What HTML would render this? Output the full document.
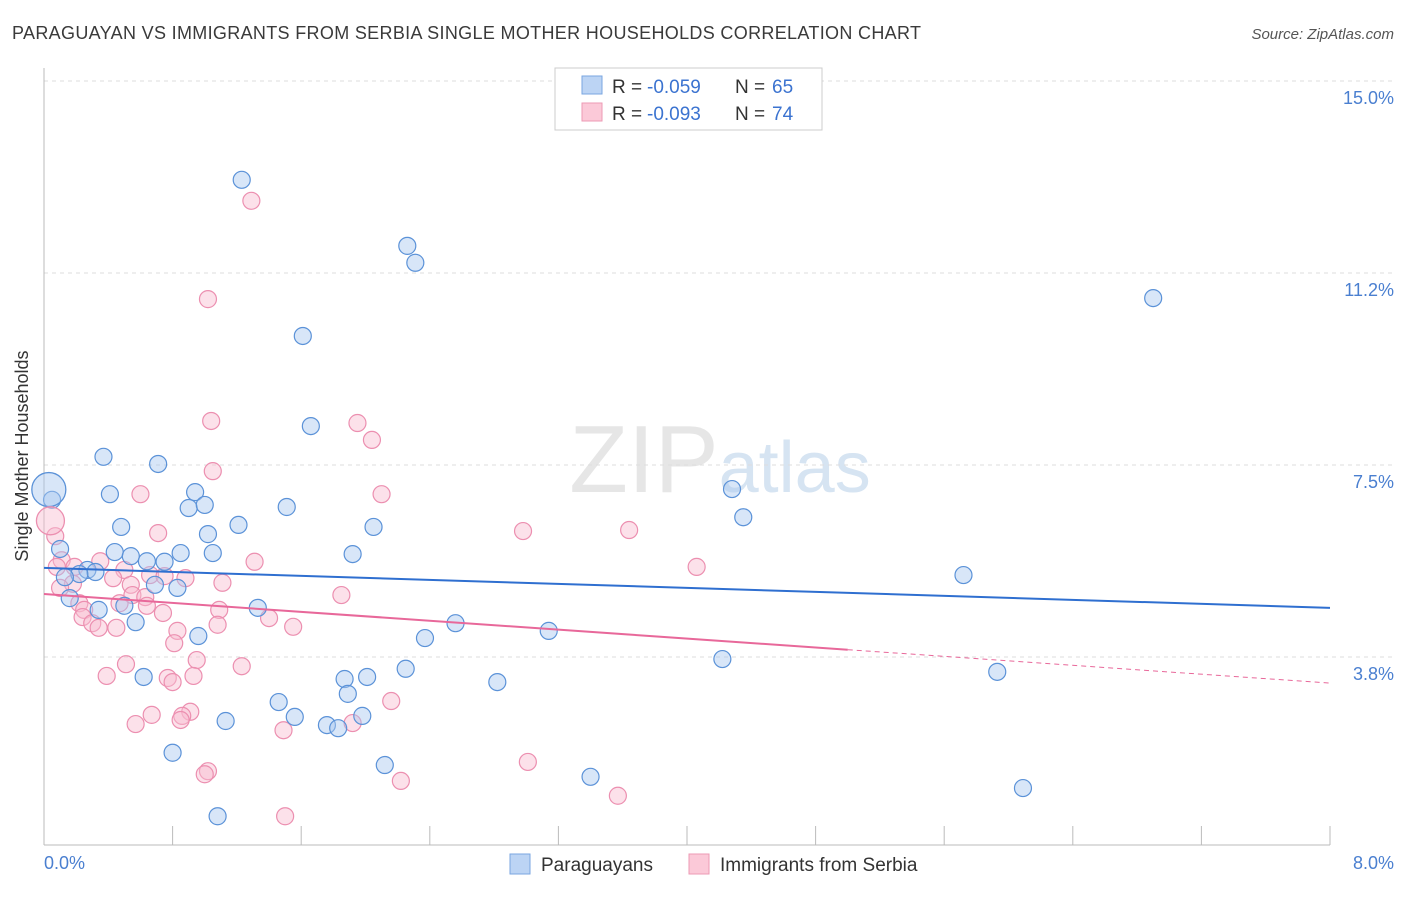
<!DOCTYPE html>
<html><head><meta charset="utf-8"><style>
body{margin:0;background:#fff;font-family:"Liberation Sans",sans-serif}
svg text{font-family:"Liberation Sans",sans-serif}
</style></head><body>
<svg id="chart" width="1406" height="892">
<text x="12" y="39" font-size="18" fill="#3a3a3a" textLength="909">PARAGUAYAN VS IMMIGRANTS FROM SERBIA SINGLE MOTHER HOUSEHOLDS CORRELATION CHART</text>
<text x="1394" y="39" font-size="15" fill="#555" font-style="italic" text-anchor="end">Source: ZipAtlas.com</text>
<text x="720" y="492" font-size="96" fill="#e6e6e6" text-anchor="middle" font-family="Liberation Serif">ZIP<tspan fill="#d6e4f2" font-family="Liberation Sans" font-size="72">atlas</tspan></text>
<g id="grid"></g>
<g id="axes"></g>
<g id="pts"></g>
<g id="trend"></g>
<text x="28" y="456" font-size="18" fill="#333" text-anchor="middle" transform="rotate(-90 28 456)">Single Mother Households</text>
<text x="44" y="869" font-size="18" fill="#4a7fd0">0.0%</text>
<text x="1394" y="869" font-size="18" fill="#4a7fd0" text-anchor="end">8.0%</text>
<g>
<rect x="555" y="68" width="267" height="62" fill="#fff" stroke="#ccc"/>
<rect x="582" y="76" width="20" height="18" fill="#bcd4f4" stroke="#7aa6e0"/>
<rect x="582" y="103" width="20" height="18" fill="#fbc9d8" stroke="#ec9ab4"/>
<text y="93" font-size="19" fill="#333"><tspan x="612">R = </tspan><tspan x="647" fill="#3b73d0">-0.059</tspan><tspan x="735">N = </tspan><tspan x="772" fill="#3b73d0">65</tspan></text>
<text y="120" font-size="19" fill="#333"><tspan x="612">R = </tspan><tspan x="647" fill="#3b73d0">-0.093</tspan><tspan x="735">N = </tspan><tspan x="772" fill="#3b73d0">74</tspan></text>
</g>
<g>
<rect x="510" y="854" width="20" height="20" fill="#bcd4f4" stroke="#7aa6e0"/>
<text x="541" y="871" font-size="19" fill="#333">Paraguayans</text>
<rect x="689" y="854" width="20" height="20" fill="#fbc9d8" stroke="#ec9ab4"/>
<text x="720" y="871" font-size="19" fill="#333">Immigrants from Serbia</text>
</g>
</svg>
<script>
const yTicks=[15.0,11.25,7.5,3.75];
const yTickLabels=["15.0%","11.2%","7.5%","3.8%"];
const xTicks=[0,0.8,1.6,2.4,3.2,4.0,4.8,5.6,6.4,7.2,8.0];
const blueX=[1.23,2.26,2.31,6.90,1.61,1.66,0.37,0.71,0.05,0.41,0.94,0.90,1.0,1.51,4.28,4.35,0.48,1.21,1.02,2.05,0.10,0.44,0.54,0.64,0.75,0.85,1.05,1.92,0.27,0.32,0.22,0.13,5.72,0.69,0.83,0.16,0.34,0.50,1.33,0.57,2.56,3.14,0.96,2.37,4.22,2.25,5.93,0.62,1.87,2.01,2.82,1.89,1.46,1.56,1.98,1.13,1.76,1.83,0.80,2.12,3.40,6.09,1.08];
const blueY=[13.07,11.78,11.45,10.76,10.02,8.26,7.66,7.52,6.82,6.93,6.97,6.66,6.72,6.68,7.03,6.48,6.29,6.33,6.15,6.29,5.86,5.80,5.72,5.62,5.61,5.78,5.78,5.76,5.45,5.41,5.37,5.31,5.35,5.16,5.10,4.90,4.67,4.75,4.71,4.43,4.41,4.26,4.16,4.12,3.71,3.52,3.46,3.36,3.32,3.36,3.26,3.03,2.87,2.58,2.60,2.50,2.42,2.36,1.88,1.64,1.41,1.19,0.64];
const pinkX=[1.29,1.02,1.04,1.95,2.04,1.05,0.60,2.10,2.98,3.64,0.07,0.71,0.11,0.35,1.31,4.06,0.08,0.19,0.50,0.66,0.75,0.88,0.43,0.18,0.54,1.11,0.10,0.55,0.63,1.85,0.22,0.47,0.64,0.25,1.09,0.74,0.24,1.40,0.30,0.45,0.34,1.08,1.55,0.83,0.81,0.95,0.51,1.23,0.39,0.77,0.93,0.80,2.16,0.67,0.91,0.86,0.85,1.92,0.57,1.49,3.01,1.02,1.00,2.22,3.57,1.50];
const pinkY=[12.66,10.74,8.36,8.32,7.99,7.38,6.93,6.93,6.21,6.23,6.11,6.17,5.64,5.62,5.61,5.51,5.51,5.51,5.45,5.35,5.33,5.29,5.29,5.18,5.16,5.20,5.10,4.96,4.92,4.96,4.80,4.80,4.75,4.67,4.67,4.61,4.53,4.51,4.41,4.32,4.32,4.38,4.34,4.26,4.02,3.69,3.61,3.57,3.38,3.34,3.38,3.26,2.89,2.62,2.68,2.60,2.52,2.46,2.44,2.32,1.70,1.52,1.46,1.33,1.04,0.64];
const blueTrend=[5.49,4.71];
const pinkTrend=[4.98,3.24];
const pinkSolidEnd=5.0;
const NS="http://www.w3.org/2000/svg";
const sx=v=>44+v*160.75, sy=v=>849-v*51.2;
function mk(tag,attrs,parent){const e=document.createElementNS(NS,tag);for(const k in attrs)e.setAttribute(k,attrs[k]);document.getElementById(parent).appendChild(e);return e;}
yTicks.forEach((t,i)=>{
 const l=mk('line',{x1:44,x2:1394,y1:sy(t),y2:sy(t),stroke:'#ddd','stroke-dasharray':'4,4'},'grid');
 
 
 const tx=mk('text',{x:1394,y:sy(t)+23,'font-size':18,fill:'#4a7fd0','text-anchor':'end'},'grid');
 tx.textContent=yTickLabels[i];
 
 
});
const ax=mk('line',{x1:44,x2:1330,y1:845,y2:845,stroke:'#bbb'},'axes');


const ay=mk('line',{x1:44,x2:44,y1:68,y2:845,stroke:'#bbb'},'axes');


xTicks.forEach(t=>{
 const l=mk('line',{x1:sx(t),x2:sx(t),y1:826,y2:845,stroke:'#bbb'},'axes');
 
 
});
function pts(X,Y,fill,stroke,name){X.forEach((x,i)=>{
 const c=mk('circle',{cx:sx(x),cy:sy(Y[i]),r:8.5,fill:fill,'fill-opacity':0.45,stroke:stroke,'stroke-width':1.2},'pts');
 
 
});}
pts(pinkX,pinkY,'#f8bcd0','#ec8fb0','serbia-point');
pts(blueX,blueY,'#a9c8ef','#5b92d8','paraguayan-point');
const big1=mk('circle',{cx:sx(0.03),cy:sy(7.02),r:17,fill:'#a9c8ef','fill-opacity':0.45,stroke:'#5b92d8','stroke-width':1.3},'pts');


const big2=mk('circle',{cx:sx(0.04),cy:sy(6.41),r:14,fill:'#f8bcd0','fill-opacity':0.45,stroke:'#ec8fb0','stroke-width':1.3},'pts');


const bt=mk('line',{x1:sx(0),x2:sx(8),y1:sy(blueTrend[0]),y2:sy(blueTrend[1]),stroke:'#2f6fd0','stroke-width':2},'trend');


const pm=pinkTrend[0]+(pinkTrend[1]-pinkTrend[0])*pinkSolidEnd/8;
const pt=mk('line',{x1:sx(0),x2:sx(pinkSolidEnd),y1:sy(pinkTrend[0]),y2:sy(pm),stroke:'#e8689a','stroke-width':2},'trend');


const pd=mk('line',{x1:sx(pinkSolidEnd),x2:sx(8),y1:sy(pm),y2:sy(pinkTrend[1]),stroke:'#e8689a','stroke-width':1,'stroke-dasharray':'5,4'},'trend');


</script>
</body></html>
